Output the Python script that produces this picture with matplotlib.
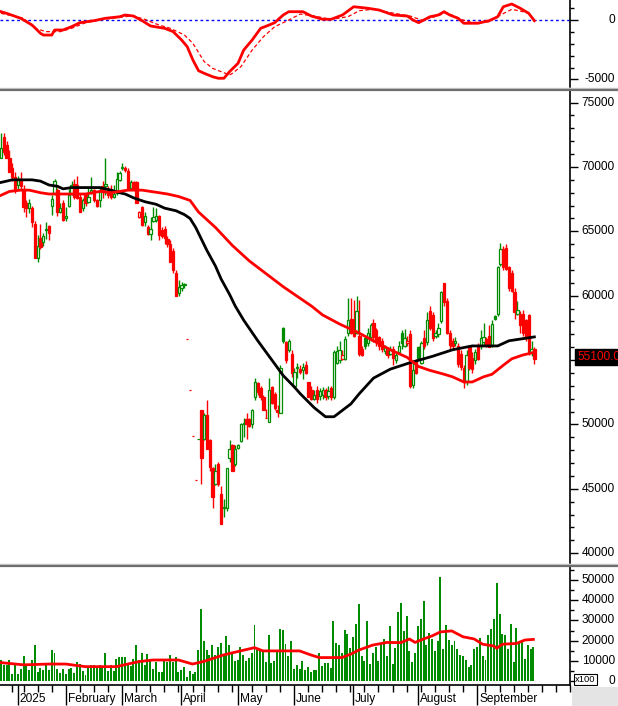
import numpy as np
import pandas as pd
import matplotlib
matplotlib.use("Agg")
import matplotlib.pyplot as plt
from matplotlib.lines import Line2D
from matplotlib.patches import Rectangle

plt.rcParams['font.family'] = ['Liberation Sans', 'DejaVu Sans']
FS = 8.6
RED = '#ff0000'
GREEN = '#008c00'

# trading days on the chart axis (HOSE calendar), the axis runs a few weeks past the data
holidays = pd.to_datetime(['2025-01-01', '2025-01-27', '2025-01-28', '2025-01-29',
                           '2025-01-30', '2025-01-31', '2025-04-07', '2025-04-30',
                           '2025-05-01', '2025-05-02', '2025-09-01', '2025-09-02'])
days = pd.bdate_range('2024-12-24', '2025-10-24')
days = days[~days.isin(holidays)]

# daily prices, thousand VND
open_k = [
    70.7, 72.3, 71.7, 70.7, 69.9, 69.2, 68.6, 68.9, 68.2, 67.2,
    66.8, 66.8, 65.6, 62.9, 64.5, 64.2, 65.1, 65.4, 67.0, 68.0,
    68.2, 66.5, 67.2, 66.0, 67.0, 67.9, 68.7, 68.6, 67.7, 66.8,
    67.8, 67.3, 68.0, 68.2, 67.4, 67.4, 68.5, 68.5, 68.3, 68.2,
    67.7, 68.0, 69.0, 69.9, 69.9, 69.7, 68.4, 68.8, 68.8, 66.1,
    66.9, 65.7, 65.3, 64.8, 65.8, 65.9, 66.2, 65.1, 65.2, 64.4,
    64.0, 63.5, 61.8, 60.2, 60.6, 60.8, 56.6, 52.7, 49.1, 45.7,
    48.9, 51.1, 48.9, 50.7, 48.8, 46.6, 45.4, 46.9, 44.6, 43.5,
    43.5, 47.4, 48.4, 46.9, 48.2, 48.7, 50.0, 50.4, 50.4, 50.0,
    52.1, 53.2, 52.8, 52.1, 50.5, 50.2, 52.9, 52.4, 51.1, 50.9,
    57.5, 56.4, 55.8, 55.5, 53.0, 54.4, 54.3, 54.2, 54.6, 53.3,
    52.7, 52.0, 52.7, 52.2, 52.3, 52.7, 52.2, 52.8, 52.1, 54.8,
    55.0, 55.1, 55.1, 57.1, 58.2, 58.2, 57.1, 56.9, 55.9, 56.7,
    56.3, 56.8, 57.9, 57.3, 56.8, 56.5, 55.7, 55.8, 55.5, 55.9,
    55.0, 55.6, 57.1, 56.1, 56.3, 57.0, 53.1, 54.9, 56.0, 54.8,
    56.7, 56.4, 58.8, 58.5, 56.9, 57.0, 58.0, 61.0, 59.6, 57.1,
    56.5, 56.3, 56.1, 55.5, 54.4, 53.3, 56.0, 55.2, 55.0, 56.1,
    56.1, 56.4, 56.6, 56.9, 56.1, 58.4, 58.6, 62.5, 63.6, 63.7,
    62.2, 61.8, 60.3, 58.6, 58.6, 58.6, 58.1, 58.5, 55.6, 55.9,
]
high_k = [
    72.6, 72.6, 72.0, 71.3, 70.3, 69.6, 69.3, 69.6, 68.6, 67.4,
    67.5, 67.0, 65.8, 64.7, 65.6, 64.9, 65.7, 65.5, 67.8, 69.1,
    68.4, 67.2, 67.4, 66.9, 68.3, 68.9, 69.1, 69.3, 67.9, 67.6,
    67.9, 68.4, 69.2, 68.3, 67.5, 68.4, 68.9, 70.7, 68.5, 68.6,
    68.6, 69.6, 69.7, 70.3, 70.1, 69.9, 69.0, 68.9, 68.9, 66.6,
    67.0, 66.5, 65.5, 66.1, 66.9, 66.8, 66.3, 65.3, 65.4, 64.6,
    64.3, 63.7, 62.0, 61.2, 61.1, 61.0, 56.6, 52.7, 49.1, 45.7,
    48.9, 51.1, 50.9, 51.9, 48.9, 46.7, 46.9, 47.1, 45.2, 44.2,
    46.6, 48.8, 48.5, 48.4, 48.5, 50.1, 50.5, 50.9, 50.5, 51.2,
    53.6, 53.3, 53.0, 52.3, 51.2, 53.6, 53.0, 52.5, 51.5, 54.6,
    57.6, 56.5, 56.6, 55.8, 54.4, 54.8, 54.6, 54.8, 54.9, 53.3,
    53.0, 52.7, 53.0, 52.8, 52.9, 52.8, 53.0, 53.0, 55.8, 56.1,
    56.5, 55.8, 56.9, 59.8, 59.8, 59.7, 60.0, 59.7, 56.1, 56.9,
    57.5, 57.9, 58.2, 57.5, 56.9, 56.7, 56.2, 56.0, 56.1, 56.1,
    55.6, 56.5, 57.3, 57.4, 56.9, 57.3, 54.8, 55.1, 56.1, 56.5,
    57.3, 58.7, 59.2, 58.7, 57.3, 57.9, 60.4, 61.0, 59.8, 57.3,
    56.7, 56.8, 56.3, 55.8, 54.6, 55.8, 56.1, 55.6, 55.9, 56.3,
    57.3, 57.9, 56.8, 57.7, 58.1, 58.5, 62.3, 64.1, 63.9, 64.0,
    62.3, 62.0, 60.6, 59.6, 58.8, 58.9, 58.2, 58.6, 56.5, 56.0,
]
low_k = [
    70.7, 70.9, 70.7, 69.6, 68.9, 68.0, 68.3, 68.2, 66.5, 66.1,
    66.4, 65.3, 62.9, 62.6, 63.6, 63.9, 64.4, 64.3, 66.3, 67.8,
    66.2, 66.4, 65.8, 65.8, 66.9, 67.8, 67.5, 67.5, 66.5, 66.6,
    67.0, 67.2, 67.9, 67.3, 66.9, 66.9, 67.6, 67.8, 67.6, 67.5,
    67.6, 67.8, 68.9, 69.8, 69.6, 68.2, 68.2, 68.2, 67.2, 66.0,
    65.4, 65.4, 64.7, 64.3, 65.7, 65.7, 64.3, 64.5, 64.0, 63.8,
    62.6, 61.8, 60.0, 60.0, 60.4, 60.6, 56.6, 52.7, 49.1, 45.7,
    48.9, 45.4, 48.8, 48.1, 46.4, 43.5, 45.3, 45.2, 42.3, 42.8,
    43.3, 47.1, 46.4, 46.8, 48.1, 48.6, 49.0, 48.9, 49.8, 49.7,
    51.9, 52.3, 51.9, 51.1, 50.5, 50.2, 51.6, 51.1, 50.6, 50.9,
    56.3, 54.8, 55.6, 53.7, 52.8, 53.6, 53.9, 53.5, 53.9, 52.1,
    51.9, 51.9, 51.7, 51.9, 52.0, 51.9, 52.0, 51.9, 52.0, 54.7,
    54.8, 55.0, 55.0, 56.9, 57.0, 56.8, 57.0, 55.3, 55.3, 55.9,
    56.1, 56.5, 56.4, 56.1, 55.8, 55.6, 55.5, 55.2, 55.4, 54.6,
    54.8, 55.5, 55.9, 56.0, 56.1, 52.8, 52.8, 53.9, 55.0, 54.7,
    55.9, 56.2, 57.3, 56.5, 56.7, 56.8, 57.9, 59.2, 57.0, 55.9,
    55.8, 56.1, 54.5, 54.2, 52.8, 53.1, 54.2, 54.0, 54.7, 55.0,
    55.9, 56.2, 56.0, 56.0, 56.0, 58.1, 58.4, 62.3, 62.0, 62.0,
    60.4, 60.3, 58.2, 58.5, 57.1, 56.9, 56.5, 55.4, 55.3, 54.7,
]
close_k = [
    71.5, 71.2, 70.7, 69.6, 69.2, 68.2, 69.1, 68.5, 66.9, 66.8,
    67.2, 65.7, 62.9, 63.9, 63.8, 64.6, 65.2, 64.9, 67.5, 68.9,
    66.5, 66.8, 65.9, 66.2, 67.8, 68.6, 67.7, 67.6, 66.5, 67.4,
    67.2, 67.7, 68.2, 67.4, 67.0, 68.2, 68.1, 68.7, 67.8, 67.7,
    67.9, 69.1, 69.5, 70.0, 69.8, 68.3, 68.8, 68.4, 67.2, 66.5,
    65.5, 66.2, 64.8, 65.2, 66.1, 66.2, 64.7, 64.6, 64.5, 64.0,
    62.6, 62.0, 60.0, 60.7, 60.8, 60.9, 56.6, 52.7, 49.1, 45.7,
    48.9, 47.4, 50.7, 48.1, 46.7, 44.4, 46.4, 45.4, 42.3, 43.6,
    46.6, 48.1, 46.4, 48.1, 48.4, 50.0, 50.1, 50.0, 49.9, 51.1,
    53.3, 52.5, 52.1, 51.1, 50.5, 52.7, 51.7, 51.3, 51.0, 54.4,
    56.5, 55.0, 56.5, 54.0, 54.1, 54.5, 54.1, 54.5, 54.0, 52.1,
    52.0, 52.3, 52.0, 52.6, 52.7, 52.1, 52.6, 52.1, 55.6, 55.7,
    55.8, 55.4, 56.6, 58.1, 57.1, 56.9, 58.8, 55.5, 55.4, 56.1,
    57.1, 57.7, 56.8, 56.4, 56.1, 55.9, 56.0, 55.4, 55.8, 55.2,
    55.4, 56.1, 56.3, 56.7, 56.5, 53.0, 54.2, 54.0, 55.2, 56.3,
    56.1, 58.1, 57.5, 56.7, 57.1, 57.5, 60.3, 59.5, 57.1, 56.2,
    56.1, 56.5, 54.7, 54.5, 53.3, 55.4, 54.4, 54.3, 55.6, 55.1,
    56.7, 56.8, 56.1, 56.0, 57.8, 58.2, 62.2, 63.6, 62.2, 62.1,
    60.6, 60.4, 58.7, 58.9, 57.7, 57.1, 56.7, 55.6, 55.9, 55.1,
]

# daily volume, x100 shares
volume = [
    10200, 8100, 8100, 10600, 3300, 8100, 3600, 5800, 12200, 7800,
    5300, 10200, 17700, 4500, 6400, 5300, 8100, 5300, 15200, 14000,
    6100, 4000, 5800, 3600, 6100, 6600, 4100, 9400, 8300, 4800,
    2800, 6900, 8100, 8100, 6900, 7800, 6400, 14000, 4800, 7800,
    4800, 10700, 11700, 11700, 11700, 8600, 7300, 11100, 17700, 10600,
    13900, 7800, 13400, 10600, 6100, 9400, 4500, 4500, 10600, 9400,
    12700, 9400, 11900, 4500, 5300, 6900, 2000, 4800, 3300, 4500,
    15200, 35600, 19600, 15200, 12700, 17700, 13000, 16800, 19000, 13500,
    22300, 18000, 14000, 9700, 10200, 16800, 12700, 9700, 11400, 14000,
    27600, 15200, 14700, 15200, 9400, 22600, 8900, 9700, 15200, 25600,
    25100, 18200, 12400, 19600, 6100, 8100, 6100, 9700, 5600, 6900,
    4500, 5300, 5600, 14000, 7300, 9100, 9100, 6400, 29500, 18800,
    17700, 14000, 25100, 23100, 16300, 21800, 28100, 38000, 12400, 9700,
    29500, 8300, 14000, 16800, 9700, 18800, 20600, 12400, 27100, 8300,
    16300, 34200, 38600, 24600, 32000, 14700, 9400, 14000, 27100, 30500,
    39600, 18000, 23800, 21000, 14700, 19600, 51500, 15700, 27600, 20100,
    18000, 19600, 16000, 13000, 12400, 10600, 6900, 7800, 16000, 16800,
    21300, 12400, 10200, 22900, 25900, 30500, 48700, 33000, 23400, 22600,
    16000, 28100, 9400, 26200, 19000, 19600, 11100, 18000, 15700, 16800,
]

# moving averages (bar index, value)
ma_black_idx = [0, 4, 11, 14, 17, 20, 22, 25, 35, 39, 42, 44, 47, 51, 55, 58, 62, 65,
                67, 69, 71, 73, 76, 78, 81, 83, 86, 91, 96, 100, 104, 106, 111, 115,
                118, 124, 127, 132, 138, 145, 153, 160, 167, 176, 180, 189]
ma_black_k = [68.8, 69.0, 69.0, 68.9, 68.6, 68.5, 68.3, 68.4, 68.4, 68.2, 68.0, 67.9,
              67.6, 67.3, 67.1, 66.8, 66.6, 66.3, 66.0, 65.3, 64.4, 63.5, 62.3, 61.3,
              60.1, 59.2, 58.1, 56.5, 55.0, 53.8, 52.9, 52.4, 51.3, 50.6, 50.6, 51.6,
              52.4, 53.6, 54.3, 54.8, 55.3, 55.8, 56.1, 56.1, 56.5, 56.8]
ma_red_idx = [0, 3, 7, 10, 14, 17, 23, 30, 35, 39, 45, 50, 59, 63, 67, 70, 76, 82, 88,
              94, 100, 106, 110, 114, 120, 126, 132, 138, 144, 148, 152, 157, 160, 164,
              167, 171, 174, 178, 181, 185, 189]
ma_red_k = [67.8, 68.1, 68.2, 68.2, 68.0, 67.9, 67.9, 67.9, 68.1, 68.0, 68.2, 68.2,
            67.9, 67.7, 67.4, 66.5, 65.3, 63.9, 62.7, 61.7, 60.7, 59.8, 59.2, 58.5,
            57.8, 57.2, 56.5, 55.8, 55.2, 54.5, 54.2, 53.9, 53.7, 53.3, 53.3, 53.7,
            53.9, 54.6, 55.1, 55.4, 55.6]
vol_ma_idx = [0, 8, 17, 23, 30, 41, 45, 49, 54, 63, 68, 72, 79, 85, 90, 93, 100, 106,
              110, 113, 121, 124, 127, 132, 137, 142, 145, 147, 150, 153, 156, 160, 164,
              168, 171, 175, 176, 178, 183, 186, 189]
vol_ma = [9100, 8000, 8400, 8400, 7100, 7100, 8400, 9600, 10400, 10400, 8400, 9700,
          12900, 14900, 16500, 14900, 14900, 14900, 12900, 11600, 11600, 13200, 15300,
          17800, 19100, 19000, 20800, 19100, 20800, 22300, 24300, 24800, 21900, 20800,
          18200, 17300, 16200, 18200, 18600, 20300, 20600]

# MACD and signal line
macd_idx = [0, 2, 7, 11, 14, 15, 18, 19, 22, 25, 28, 33, 37, 42, 44, 47, 50, 53, 58,
            61, 64, 66, 68, 70, 72, 75, 77, 79, 81, 84, 86, 89, 92, 95, 97, 100, 102,
            107, 110, 114, 117, 121, 125, 130, 134, 139, 144, 146, 148, 152, 155, 157,
            159, 162, 164, 169, 173, 176, 178, 181, 184, 187, 189]
macd = [730, 590, 170, -400, -1100, -1250, -1250, -820, -820, -540, -200, -30, 170,
        300, 450, 360, -30, -480, -680, -960, -1670, -2240, -3360, -4270, -4490, -4780,
        -4910, -4910, -4350, -3640, -2520, -1670, -680, -400, -200, 450, 730, 730, 360,
        85, 85, 450, 1150, 1020, 870, 450, 360, 25, -200, 300, 450, 730, 450, 170, -250,
        -250, -30, 300, 1150, 1380, 1020, 590, -30]
signal_idx = [0, 8, 12, 16, 21, 25, 30, 36, 42, 46, 50, 56, 60, 65, 68, 72, 75, 78, 81,
              82, 85, 89, 93, 97, 102, 106, 111, 117, 123, 127, 132, 138, 145, 149, 153,
              158, 163, 167, 173, 177, 181, 185, 188]
signal = [590, 170, -680, -960, -960, -680, -200, 80, 250, 360, 170, -400, -680, -1245,
          -1950, -3500, -4070, -4350, -4630, -4490, -3930, -2520, -1390, -540, 25, 530,
          360, 80, 310, 815, 930, 650, 360, 25, 250, 650, 80, -200, -120, 450, 930, 730,
          530]

# ---------------------------------------------------------------
W, H = 618, 706
RIGHT = 570
fig = plt.figure(figsize=(W / 100, H / 100), dpi=100)


def box(top, bottom):
    return [0, 1 - bottom / H, RIGHT / W, (bottom - top) / H]


ax_m = fig.add_axes(box(0, 87))
ax_p = fig.add_axes(box(91, 563))
ax_v = fig.add_axes(box(567, 685))

for ax in (ax_m, ax_p, ax_v):
    ax.set_xlim(-0.35, (RIGHT - 1) / 2.822)
    for s in ('left', 'top', 'bottom'):
        ax.spines[s].set_visible(False)
    ax.spines['right'].set_linewidth(1.2)
    ax.yaxis.tick_right()
    ax.tick_params(axis='y', which='major', length=6, width=1, labelright=False)
    ax.tick_params(axis='y', which='minor', length=3, width=1)
    ax.set_xticks([])


def right_labels(ax, values):
    for v in values:
        ax.text(1 + 45 / RIGHT, v, f"{v:.0f}", transform=ax.get_yaxis_transform(),
                ha='right', va='center', fontsize=FS, clip_on=False)


x = np.arange(len(close_k))

# MACD panel
ax_m.set_ylim(-5650, 1720)
ax_m.axhline(0, color='#0000ff', lw=1, ls=(0, (2, 2)))
ax_m.plot(signal_idx, signal, color=RED, lw=0.9, ls=(0, (3, 2)))
ax_m.plot(macd_idx, macd, color=RED, lw=2)
ax_m.set_yticks([-5000, 0])
ax_m.set_yticks(np.arange(-5000, 2000, 1000), minor=True)
right_labels(ax_m, [0, -5000])

# price panel
o = np.array(open_k) * 1000
h = np.array(high_k) * 1000
l = np.array(low_k) * 1000
c = np.array(close_k) * 1000
prev = np.r_[o[0], c[:-1]]
col = np.where(c >= prev, GREEN, RED)
face = np.where(c > o, 'white', col)
ax_p.vlines(x, l, h, colors=col, lw=1, zorder=2)
ax_p.bar(x, c - o, bottom=o, width=0.82, color=face, edgecolor=col, linewidth=0.9, zorder=3)
ax_p.plot(ma_black_idx, np.array(ma_black_k) * 1000, color='black', lw=2, zorder=4)
ax_p.plot(ma_red_idx, np.array(ma_red_k) * 1000, color=RED, lw=2, zorder=4)
ax_p.set_ylim(39240, 75900)
ax_p.set_yticks(np.arange(40000, 80000, 5000))
ax_p.set_yticks(np.arange(40000, 76000, 1000), minor=True)
right_labels(ax_p, np.arange(40000, 80000, 5000))
fig.text(577 / W, 1 - 357 / H, f"{c[-1]:.2f}", color=RED, fontsize=FS, va='center',
         bbox=dict(facecolor='black', edgecolor='black', pad=1.6))

# volume panel
ax_v.bar(x, volume, width=0.7, color=GREEN, zorder=2)
ax_v.plot(vol_ma_idx, vol_ma, color=RED, lw=2, zorder=3)
ax_v.set_ylim(-1980, 56440)
ax_v.set_yticks(np.arange(0, 60000, 10000))
ax_v.set_yticks(np.arange(0, 60000, 5000), minor=True)
right_labels(ax_v, np.arange(0, 60000, 10000))
ax_v.spines['bottom'].set_visible(True)
ax_v.spines['bottom'].set_linewidth(1.2)

# date axis: month starts (labelled) and weekly ticks
new_month = [i for i in range(1, len(days)) if days[i].month != days[i - 1].month]
month_start = [i for i in new_month if i < len(x) - 1]
week_start = [i for i in range(1, len(days))
              if days[i].isocalendar()[1] != days[i - 1].isocalendar()[1] and i not in month_start]
ax_v.set_xticks(month_start)
ax_v.set_xticks(week_start, minor=True)
ax_v.tick_params(axis='x', which='major', length=14.5, width=1, direction='out', labelbottom=False)
ax_v.tick_params(axis='x', which='minor', length=5, width=1, direction='out')
for i in month_start:
    name = str(days[i].year) if days[i].month == 1 else days[i].strftime('%B')
    ax_v.text(i + 0.7, -(699 - 685) / 118, name, transform=ax_v.get_xaxis_transform(),
              ha='left', va='center', fontsize=FS, clip_on=False)

# panel frames
fig.add_artist(Rectangle((572 / W, 0), (W - 572) / W, 19 / H, transform=fig.transFigure,
                         facecolor='#e4e4e4', edgecolor='none'))
for y, colr, lw in [(88, '#c8c8c8', 1), (89.8, '#6e6e6e', 1.6),
                    (563.8, '#c8c8c8', 1), (565.6, '#6e6e6e', 1.6)]:
    fig.add_artist(Line2D([0, 1], [1 - y / H, 1 - y / H], transform=fig.transFigure,
                          color=colr, lw=lw))
fig.text(575 / W, 1 - 679.5 / H, 'x100', fontsize=6.8, va='center',
         bbox=dict(facecolor='white', edgecolor='black', lw=0.8, pad=1.0))

fig.savefig('out.png', dpi=100)
